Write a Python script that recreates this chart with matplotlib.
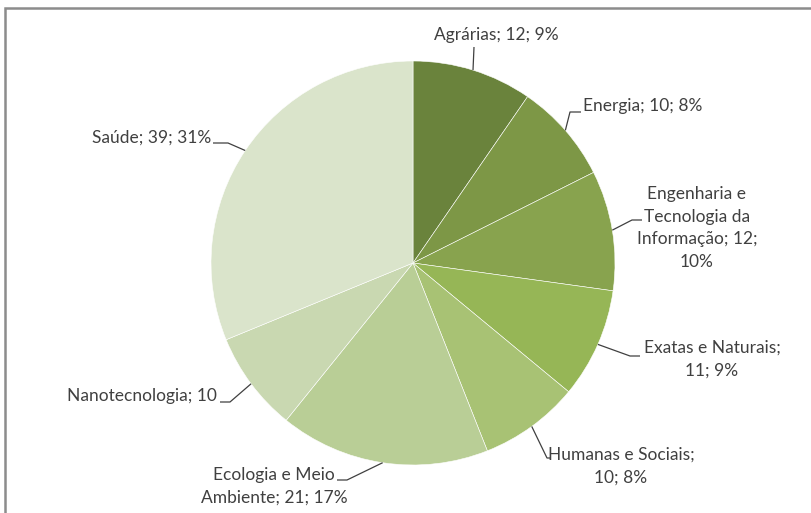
import matplotlib.pyplot as plt
import numpy as np
from matplotlib.patches import Rectangle

# chart data
areas = ['Agrárias', 'Energia', 'Engenharia e\nTecnologia da\nInformação', 'Exatas e Naturais',
         'Humanas e Sociais', 'Ecologia e Meio\nAmbiente', 'Nanotecnologia', 'Saúde']
values = [12, 10, 12, 11, 10, 21, 10, 39]
labels = ['Agrárias; 12; 9%', 'Energia; 10; 8%', 'Engenharia e\nTecnologia da\nInformação; 12;\n10%',
          'Exatas e Naturais;\n11; 9%', 'Humanas e Sociais;\n10; 8%', 'Ecologia e Meio\nAmbiente; 21; 17%',
          'Nanotecnologia; 10', 'Saúde; 39; 31%']
colors = ['#6a833c', '#7d9746', '#88a34e', '#96b656', '#a8c274', '#b9ce96', '#c9d8b1', '#dae4cb']

W, H = 812, 513
cx, cy, R = 413, 263, 202   # pie centre / radius in pixels (from top-left)

# label layout in pixels: text anchor, alignment, elbow points of the leader
lab_pos = [(496, 35, 'center'), (583, 106, 'left'), (697, 228, 'center'), (712, 359, 'center'),
           (621, 466, 'center'), (274, 486, 'center'), (217, 396, 'right'), (211, 138, 'right')]
elbows = [[(474, 47)], [(570, 112), (581, 112)], [(632, 220), (642, 220)], [(630, 356), (640, 356)],
          [(547, 458), (551, 458)], [(347, 480), (337, 480)], [(230, 402), (220, 402)],
          [(228, 143), (213, 143)]]

txt = '#404040'
plt.rcParams['font.family'] = ['Lato', 'DejaVu Sans']

fig = plt.figure(figsize=(W / 100, H / 100), dpi=100)
ax = fig.add_axes([0, 0, 1, 1])

wedges, _ = ax.pie(values, colors=colors, startangle=90, counterclock=False,
                   center=(cx, H - cy), radius=R,
                   wedgeprops=dict(edgecolor='white', linewidth=0.4))
ax.set_xlim(0, W)
ax.set_ylim(0, H)
ax.set_aspect('equal')
ax.axis('off')

total = sum(values)
cum = np.cumsum([0] + values)
for i, lab in enumerate(labels):
    mid = np.deg2rad((cum[i] + cum[i + 1]) / 2 / total * 360)
    ex, ey = cx + R * np.sin(mid), cy - R * np.cos(mid)
    pts = [(ex, ey)] + elbows[i]
    ax.plot([p[0] for p in pts], [H - p[1] for p in pts], color=txt, lw=0.9,
            solid_capstyle='butt')
    x, y, ha = lab_pos[i]
    ax.text(x, H - y, lab, ha=ha, va='center', multialignment='center',
            fontsize=12.5, color=txt, linespacing=1.5)

# chart frame (runs off the right and bottom edges)
fig.patches.append(Rectangle((5 / W, -0.05), 1.0, 1 - 8 / H + 0.05, transform=fig.transFigure,
                             fill=False, edgecolor='#8c8c8c', lw=1.8))

fig.savefig('out.png', dpi=100)
